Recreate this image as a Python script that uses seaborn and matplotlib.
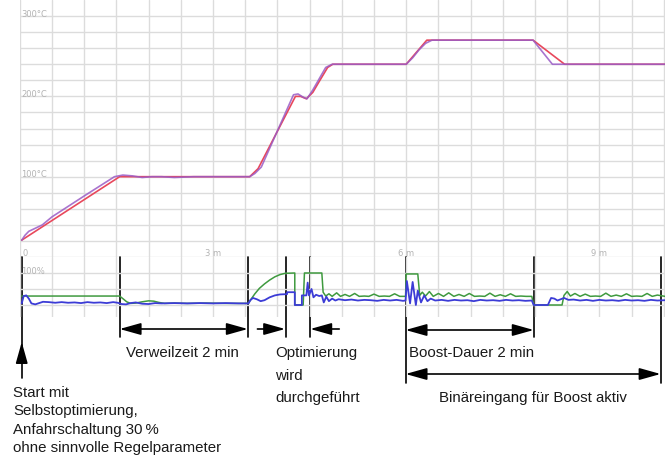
import numpy as np
import pandas as pd
import matplotlib
matplotlib.use("Agg")
import matplotlib.pyplot as plt
import matplotlib.transforms as mtransforms
import seaborn as sns

# ---------------- data (time in minutes) ----------------
red_t = [0.03, 1.55, 3.57, 3.70, 4.28, 4.36, 4.45, 4.55, 4.66, 4.78, 4.86, 6.00, 6.32, 7.97, 8.46, 10.02]
red_v = [21, 100, 100, 110, 200, 200, 197, 205, 220, 236, 240, 240, 270, 270, 240, 240]

pur_t = [0.03, 0.08, 0.14, 0.22, 0.35, 0.50, 1.00, 1.47, 1.60, 1.75, 1.90, 2.05, 2.20, 2.40, 2.70, 3.00, 3.30, 3.57,
         3.65, 3.75, 4.25, 4.32, 4.40, 4.46, 4.55, 4.65, 4.75, 4.85, 6.00, 6.10, 6.20, 6.30, 6.40, 7.97, 8.27, 10.02]
pur_v = [21, 27, 32, 35, 40, 50, 76, 100, 102, 101, 99, 100, 100, 99, 100, 100, 100, 100,
         104, 112, 202, 203, 199, 197, 208, 222, 236, 240, 240, 248, 258, 266, 270, 270, 240, 240]

green_t = [0.03, 1.55, 1.60, 1.66, 1.72, 1.80, 1.90, 2.00, 2.08, 2.16, 2.25, 2.40, 2.60, 2.90, 3.20, 3.55,
           3.58, 3.65, 3.72, 3.80, 3.88, 3.96, 4.04, 4.12, 4.27, 4.27, 4.40, 4.42, 4.69, 4.71,
           4.75, 4.80, 4.85, 4.92, 4.98, 5.05, 5.12, 5.20, 5.27, 5.35, 5.42, 5.50, 5.58, 5.66, 5.74, 5.82, 5.90, 5.99,
           6.00, 6.18, 6.21, 6.25, 6.30, 6.36, 6.42, 6.50, 6.58, 6.66, 6.74, 6.82, 6.90, 6.98, 7.06, 7.14, 7.22,
           7.30, 7.38, 7.46, 7.54, 7.62, 7.70, 7.78, 7.86, 7.95, 7.98, 8.42, 8.45, 8.50, 8.55, 8.62, 8.70, 8.78,
           8.86, 8.94, 9.02, 9.10, 9.18, 9.26, 9.34, 9.42, 9.50, 9.58, 9.66, 9.74, 9.82, 9.90, 10.02]
green_v = [28, 28, 20, 10, 5, 6, 10, 13, 12, 8, 5, 6, 5, 6, 5, 5,
           15, 35, 52, 66, 78, 88, 95, 99, 100, 0, 0, 100, 100, 40,
           28, 35, 27, 38, 27, 33, 27, 36, 27, 28, 27, 34, 27, 28, 27, 35, 27, 27,
           97, 97, 30, 40, 28, 42, 27, 36, 27, 38, 27, 33, 27, 36, 27, 28, 27,
           37, 27, 32, 27, 35, 27, 28, 27, 27, 0, 0, 30, 42, 28, 36, 27, 34,
           27, 28, 27, 37, 27, 31, 27, 35, 27, 28, 27, 36, 27, 31, 27]

blue_t = [0.03, 0.06, 0.10, 0.14, 0.18, 0.24, 0.30, 0.36, 0.45, 0.55, 0.65, 0.75, 0.85, 0.95, 1.05, 1.15, 1.25,
          1.35, 1.45, 1.52, 1.58, 1.65, 1.72, 1.80, 1.90, 2.00, 2.10, 2.20, 2.40, 2.60, 2.80, 3.00, 3.20, 3.40, 3.55,
          3.58, 3.62, 3.68, 3.74, 3.80, 3.88, 3.96, 4.04, 4.15, 4.15, 4.27, 4.27, 4.38, 4.38, 4.45, 4.47, 4.49,
          4.53, 4.56, 4.60, 4.65, 4.69, 4.72, 4.76, 4.80, 4.85, 4.90, 4.95, 5.05, 5.15, 5.25, 5.35, 5.45, 5.55,
          5.65, 5.75, 5.85, 5.95, 5.99, 6.01, 6.06, 6.10, 6.15, 6.18, 6.23, 6.28, 6.33, 6.38, 6.45, 6.55, 6.65,
          6.75, 6.85, 6.95, 7.05, 7.15, 7.25, 7.35, 7.45, 7.55, 7.65, 7.75, 7.85, 7.95, 7.98, 8.20, 8.25, 8.30,
          8.35, 8.40, 8.45, 8.52, 8.60, 8.70, 8.80, 8.90, 9.00, 9.10, 9.20, 9.30, 9.40, 9.50, 9.60, 9.70, 9.80,
          9.90, 10.02]
blue_v = [5, 28, 30, 20, 5, 2, 6, 10, 9, 7, 9, 7, 8, 6, 9, 7, 8,
          6, 9, 7, 3, 2, 6, 8, 4, 3, 6, 5, 6, 5, 6, 5, 6, 5, 5,
          15, 22, 18, 12, 15, 24, 30, 33, 34, 40, 40, 0, 0, 30, 30, 70, 30,
          50, 24, 32, 28, 30, 8, 26, 12, 20, 14, 18, 15, 17, 14, 16, 15, 13,
          16, 14, 16, 13, 14, 75, 5, 72, 0, 45, 8, 30, 12, 20, 14, 16, 13,
          16, 14, 15, 12, 16, 14, 15, 13, 16, 14, 15, 13, 14, 0, 0, 22, 20,
          14, 18, 22, 16, 17, 14, 16, 13, 16, 14, 15, 13, 16, 14, 15, 13, 16,
          14, 15]

x_labels = ["0", "3 m", "6 m", "9 m"]
x_label_pos = [0, 3, 6, 9]
temp_labels = ["100°C", "200°C", "300°C"]
temp_label_pos = [100, 200, 300]

# ---------------- figure ----------------
W, H = 665, 459
sns.set_style("white")
plt.rcParams["font.family"] = ["DejaVu Sans"]
fig = plt.figure(figsize=(W / 100, H / 100), dpi=100)

x0 = 19.8
XMAX = (W - x0) / 64.4
ax_t = fig.add_axes([x0 / W, 1 - 257 / H, 1 - x0 / W, 257 / H])
ax_b = fig.add_axes([x0 / W, 1 - 317 / H, 1 - x0 / W, 60 / H])

grid_c = "#dcdcdc"
for ax in (ax_t, ax_b):
    ax.set_xlim(0, XMAX)
    ax.set_xticks(np.arange(0, 10.01, 0.5))
    ax.tick_params(length=0, labelbottom=False, labelleft=False)
    for s in ax.spines.values():
        s.set_visible(False)
    ax.grid(True, color=grid_c, linewidth=1.0)
    ax.set_facecolor("none")

ax_t.set_ylim(0, 320)
ax_t.set_yticks(np.arange(0, 301, 20))
ax_b.set_ylim(-37.5, 150)
ax_b.set_yticks([0, 50, 100])

temp = pd.DataFrame({"t": red_t, "v": red_v})
sns.lineplot(data=temp, x="t", y="v", ax=ax_t, color="#e8485c", linewidth=1.2,
             estimator=None, sort=False)
sns.lineplot(x=pur_t, y=pur_v, ax=ax_t, color="#9a5cc6", linewidth=1.2,
             estimator=None, sort=False, alpha=0.85)
sns.lineplot(x=green_t, y=green_v, ax=ax_b, color="#3f9a3f", linewidth=1.1,
             estimator=None, sort=False)
sns.lineplot(x=blue_t, y=blue_v, ax=ax_b, color="#3c3cd6", linewidth=1.3,
             estimator=None, sort=False)
for ax in (ax_t, ax_b):
    ax.set_xlabel("")
    ax.set_ylabel("")

lab_c = "#b3b3b3"
for lab, v in zip(temp_labels, temp_label_pos):
    ax_t.text(0.02, v + 2.5, lab, fontsize=6, color=lab_c, va="center", ha="left")
for lab, p in zip(x_labels, x_label_pos):
    ax_t.text(p + (0.04 if p == 0 else 0), 4.5, lab, fontsize=6, color=lab_c, va="center",
              ha="left" if p == 0 else "center")
ax_b.text(0.02, 106, "100%", fontsize=6, color=lab_c, va="center", ha="left")

# ---------------- annotations ----------------
ypx = mtransforms.Affine2D().scale(1 / W, -1 / H).translate(0, 1) + fig.transFigure
bt = mtransforms.blended_transform_factory(ax_t.transData, ypx)

vlines = [(0.03, 378), (1.55, 337), (3.54, 337), (4.13, 337), (4.50, 337),
          (5.99, 383), (7.98, 337), (9.95, 383)]
for xm, yend in vlines:
    ax_t.plot([xm, xm], [257, yend], color="black", lw=1.2, transform=bt, clip_on=False)

def arrow(xa, ya, xb, yb, style):
    ax_t.annotate("", xy=(xb, yb), xytext=(xa, ya), xycoords=bt, textcoords=bt,
                  annotation_clip=False,
                  arrowprops=dict(arrowstyle=style + ",head_length=1.0,head_width=0.28",
                                  color="black", lw=1.2, shrinkA=0, shrinkB=0,
                                  mutation_scale=13))

arrow(0.03, 360, 0.03, 342, "-|>")
arrow(1.55, 329, 3.54, 329, "<|-|>")
arrow(3.69, 329, 4.12, 329, "-|>")
arrow(4.96, 329, 4.51, 329, "-|>")
arrow(5.99, 330, 7.98, 330, "<|-|>")
arrow(5.99, 374, 9.95, 374, "<|-|>")

tfam = ["Liberation Sans", "DejaVu Sans"]
def ptext(x, y, s, ha="left"):
    return fig.text(x / W, 1 - y / H, s, ha=ha, va="center", family=tfam,
                    fontsize=10.8, color="#1a1a1a")

ptext(126, 353, "Verweilzeit 2 min")
ptext(275, 353, "Optimierung")
ptext(275, 376, "wird")
ptext(275, 398, "durchgeführt")
ptext(409, 353, "Boost-Dauer 2 min")
ptext(533, 398, "Binäreingang für Boost aktiv", ha="center")
ptext(13, 393, "Start mit")
ptext(13, 411, "Selbstoptimierung,")
ptext(13, 430, "Anfahrschaltung 30\u2009%")
ptext(13, 448, "ohne sinnvolle Regelparameter")

fig.savefig("out.png", dpi=100)
